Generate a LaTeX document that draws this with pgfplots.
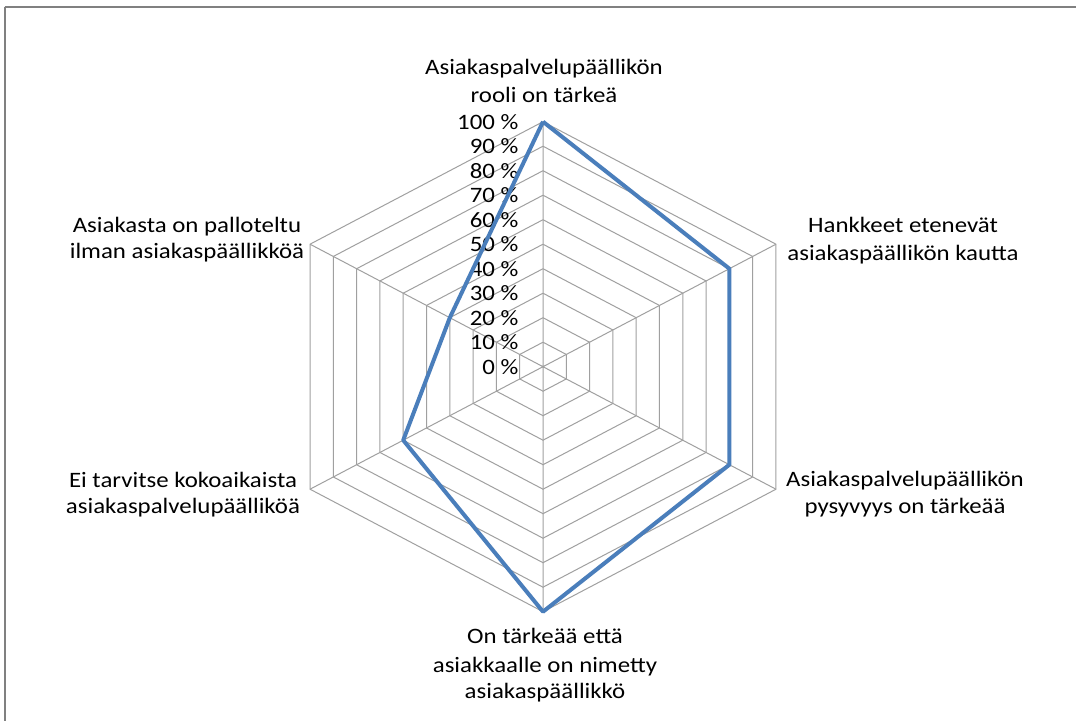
\documentclass[border=0pt]{standalone}
\usepackage{pgfplots}
\pgfplotsset{compat=1.18}
\usepackage{fontspec}
\setmainfont{Carlito}[FakeStretch=1.13]
\definecolor{serblue}{RGB}{74,126,187}
\definecolor{gridc}{RGB}{160,160,160}
\definecolor{framec}{RGB}{128,128,128}
\begin{document}
\begin{tikzpicture}
\useasboundingbox (0,0) rectangle (538pt,360pt);
\fill[white] (0,0) rectangle (538pt,360pt);
\clip (0,0) rectangle (538pt,360pt);
\draw[framec, line width=1pt] (2.25pt,356.35pt) -- (560pt,356.35pt);
\draw[framec, line width=1pt] (2.25pt,356.35pt) -- (2.25pt,-20pt);
\begin{axis}[
  at={(271.5pt,176.65pt)}, anchor=origin,
  x=1.345pt, y=1.225pt,
  xmin=-100, xmax=100, ymin=-100, ymax=100,
  hide axis, clip=false,
]
% grid hexagons
\pgfplotsinvokeforeach{10,20,30,40,50,60,70,80,90,100}{
  \addplot[gridc, line width=0.5pt, data cs=polar, mark=none]
    coordinates {(90,#1)(30,#1)(-30,#1)(-90,#1)(-150,#1)(150,#1)(90,#1)};
}
% spokes
\addplot[gridc, line width=0.5pt, data cs=polar, mark=none]
  coordinates {(0,0)(90,100)(0,0)(30,100)(0,0)(-30,100)(0,0)(-90,100)(0,0)(-150,100)(0,0)(150,100)};
% tick labels
\pgfplotsinvokeforeach{0,10,20,30,40,50,60,70,80,90,100}{
  \node[anchor=east, inner sep=0pt, font=\fontsize{11pt}{14pt}\selectfont] at (axis cs:-9.0,#1) {#1 \%};
}
% data series
\addplot[serblue, line width=2pt, line join=round, data cs=polar, mark=none]
  coordinates {(90,100)(30,80)(-30,80)(-90,100)(-150,60)(150,40)(90,100)};
\end{axis}
\begin{scope}[every node/.style={anchor=base, inner sep=0pt, font=\fontsize{11pt}{14pt}\selectfont}]
\node at (272pt,323pt) {Asiakaspalvelupäällikön};
\node at (272pt,309pt) {rooli on tärkeä};
\node at (451.5pt,244pt) {Hankkeet etenevät};
\node at (451.5pt,230pt) {asiakaspäällikön kautta};
\node at (452.5pt,117pt) {Asiakaspalvelupäällikön};
\node at (452.5pt,103.5pt) {pysyvyys on tärkeää};
\node at (93.5pt,244pt) {Asiakasta on palloteltu};
\node at (93.5pt,231pt) {ilman asiakaspäällikköä};
\node at (91.5pt,116.5pt) {Ei tarvitse kokoaikaista};
\node at (91.5pt,103.5pt) {asiakaspalvelupäälliköä};
\node at (272.5pt,38.5pt) {On tärkeää että};
\node at (272.5pt,24pt) {asiakkaalle on nimetty};
\node at (272.5pt,11pt) {asiakaspäällikkö};
\end{scope}
\end{tikzpicture}
\end{document}
